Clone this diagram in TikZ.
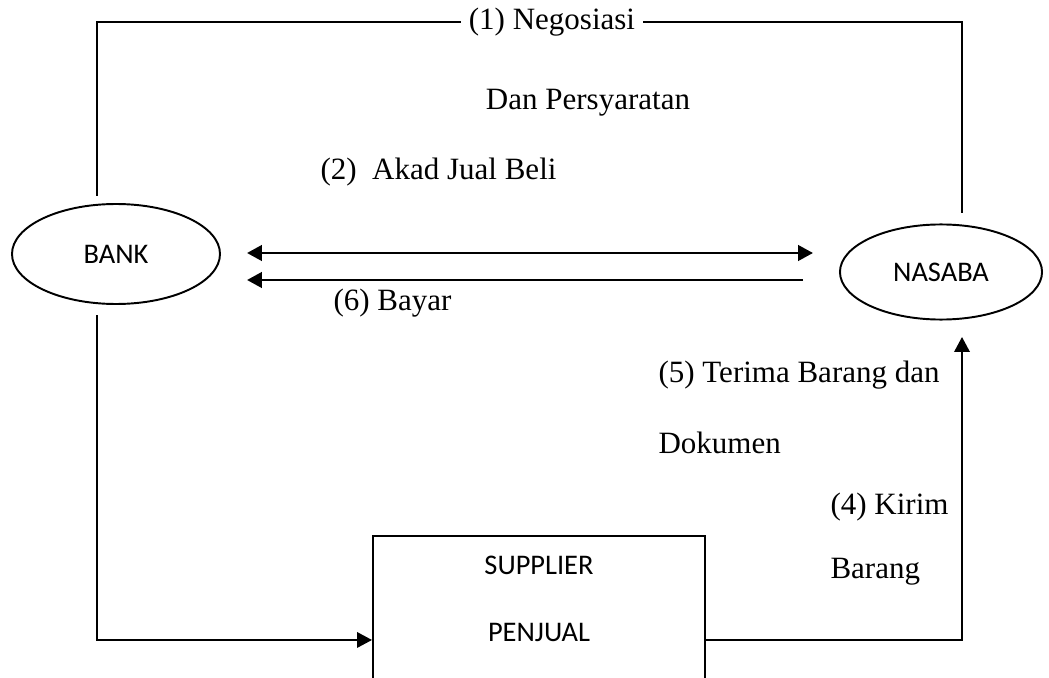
\documentclass[tikz,border=0pt]{standalone}
\usepackage{fontspec}
\setmainfont{Liberation Serif}
\newfontfamily\calibri{Carlito}
\usetikzlibrary{arrows.meta,positioning,shapes.geometric}

\begin{document}
\begin{tikzpicture}[
          x=0.387pt,y=-0.387pt,
          >={Triangle[length=5.8pt,width=6pt]},
          party/.style={ellipse,draw,line width=0.75pt,inner sep=0pt,
                        font=\calibri\fontsize{11}{13}\selectfont},
          box/.style={rectangle,draw,line width=0.75pt,inner sep=0pt,
                      minimum width=128.5pt,minimum height=80.5pt},
          boxtxt/.style={font=\calibri\fontsize{11}{13}\selectfont,inner sep=0pt},
          lbl/.style={font=\fontsize{12}{14}\selectfont,inner sep=0pt},
          line/.style={line width=0.75pt},
          arr/.style={->,line width=0.75pt},
          arrbold/.style={line width=1.1pt}]
        \useasboundingbox (0,0) rectangle (1049,678);
        \node[party,minimum width=80.5pt,minimum height=38.7pt] (bank) at (116,254) {BANK};
        \node[party,minimum width=78.2pt,minimum height=36.8pt] (nasaba) at (941,272) {NASABA};
        \node[box,anchor=north] (supplier) at (539,535) {};
        \node[boxtxt] (supplier-a) at (539,565) {SUPPLIER};
        \node[boxtxt] (supplier-b) at (539,632) {PENJUAL};
        % free ends of the connectors
        \coordinate (bank-top) at (97,196);
        \coordinate (bank-bot) at (97,315);
        \coordinate (nasaba-top) at (962,213);
        \coordinate (nasaba-in) at (962,337);
        \coordinate (akad-l) at (247,253);
        \coordinate (akad-r) at (813,253);
        \coordinate (bayar-l) at (247,280);
        \coordinate (bayar-r) at (803,280);
        % labels
        \node[lbl,fill=white,inner xsep=3pt] (nego) at (552,22) {(1) Negosiasi};
        \node[lbl] (syarat) at (588,103) {Dan Persyaratan};
        \node[lbl,anchor=west] (akad) at (320,172) {(2)\ \ Akad Jual Beli};
        \node[lbl,anchor=west] (bayar) at (333,303) {(6) Bayar};
        \node[lbl,anchor=west] (terima) at (658,375) {(5) Terima Barang dan};
        \node[lbl,anchor=west] (dokumen) at (658,443) {Dokumen};
        \node[lbl,anchor=west] (kirim) at (830,507) {(4) Kirim};
        \node[lbl,anchor=west] (barang) at (830,572) {Barang};
        % connectors
        \draw[line] (bank-top) |- (nego.west);
        \draw[line] (nego.east) -| (nasaba-top);
        \draw[arrbold,<->] (akad-l) -- (akad-r);
        \draw[arrbold,->] (bayar-r) -- (bayar-l);
        \draw[arr] (bank-bot) |- (supplier.west);
        \draw[arr] (supplier.east) -| (nasaba-in);
      \end{tikzpicture}
\end{document}
